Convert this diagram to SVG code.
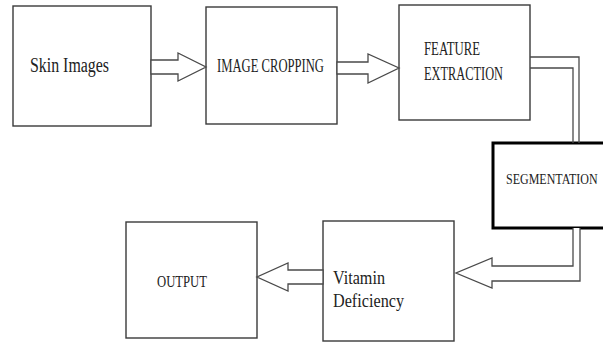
<svg xmlns="http://www.w3.org/2000/svg" width="603" height="343" viewBox="0 0 603 343">
<style>
.box{fill:#fff;stroke:#3a3a3a;stroke-width:1.4}
.seg{fill:#fff;stroke:#000;stroke-width:3}
.conn{fill:#fff;stroke:#4a4a4a;stroke-width:1.3;stroke-linejoin:miter}
.line{fill:none;stroke:#4a4a4a;stroke-width:1.3}
text{font-family:"Liberation Serif","Times New Roman",serif;fill:#222}
</style>
<rect x="0" y="0" width="603" height="343" fill="#fff"/>
<g id="skin-images">
<rect class="box" x="13" y="6" width="138" height="120"/>
<text x="30" y="72" font-size="20" textLength="79" lengthAdjust="spacingAndGlyphs">Skin Images</text>
</g>
<g id="image-cropping">
<rect class="box" x="206" y="7" width="131" height="117"/>
<text x="217" y="72" font-size="19" textLength="107" lengthAdjust="spacingAndGlyphs">IMAGE CROPPING</text>
</g>
<g id="feature-extraction">
<rect class="box" x="399" y="5" width="131" height="115"/>
<text x="424" y="55" font-size="19" textLength="56" lengthAdjust="spacingAndGlyphs">FEATURE</text>
<text x="424" y="80" font-size="19" textLength="79" lengthAdjust="spacingAndGlyphs">EXTRACTION</text>
</g>
<g id="segmentation">
<rect class="seg" x="493" y="143" width="120" height="85"/>
<text transform="translate(506,184) scale(1,1.2)" font-size="12">SEGMENTATION</text>
</g>
<g id="vitamin-deficiency">
<rect class="box" x="323" y="221" width="131" height="120"/>
<text x="333" y="284" font-size="19" textLength="52" lengthAdjust="spacingAndGlyphs">Vitamin</text>
<text x="333" y="307" font-size="19" textLength="71" lengthAdjust="spacingAndGlyphs">Deficiency</text>
</g>
<g id="output">
<rect class="box" x="126" y="222" width="131" height="116"/>
<text x="157" y="287" font-size="17" textLength="50" lengthAdjust="spacingAndGlyphs">OUTPUT</text>
</g>
<g id="connectors">
<polygon class="conn" points="151,60 178,60 178,53 206,67 178,81 178,74 151,74"/>
<polygon class="conn" points="337,62 368,62 368,54 399,68 368,83 368,74 337,74"/>
<polyline class="line" points="530,57 579,57 579,143"/>
<polyline class="line" points="530,68 573,68 573,143"/>
<path class="conn" d="M573,228 V266 H492 V258 L456,273 L492,288 V281 H580 V228"/>
<polygon class="conn" points="323,270 288,270 288,263 257,277 288,291 288,284 323,284"/>
</g>
</svg>
